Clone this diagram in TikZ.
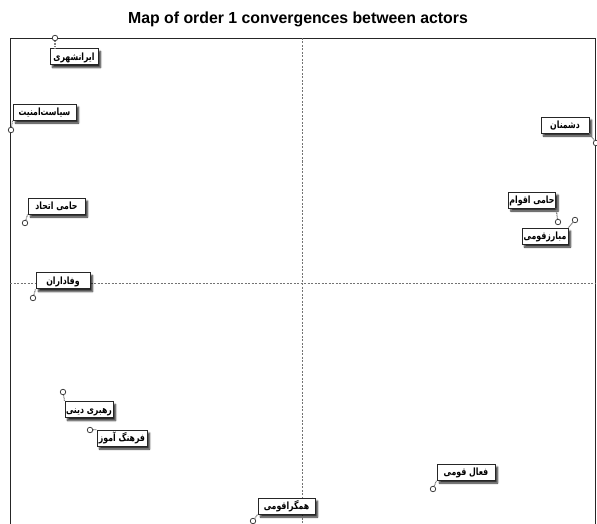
\documentclass[tikz,border=0pt]{standalone}
\usepackage{fontspec}
\usepackage{graphicx}
\setmainfont{Liberation Sans}
\newfontfamily\arabicfont[Script=Arabic]{DejaVu Sans}
\TeXXeTstate=1
\usetikzlibrary{shadows.blur}
\newcommand{\fa}[1]{\scalebox{0.78}[1]{\arabicfont\bfseries\beginR #1\endR}}
\tikzset{
  lbl/.style={draw=black!85, line width=0.9pt, fill=white, minimum height=16pt,
    inner sep=1pt, text height=8.5pt, text depth=1pt,
    font=\fontsize{10}{11}\selectfont,
    blur shadow={shadow xshift=2.5pt, shadow yshift=-3pt, shadow blur radius=1.8pt,
      shadow blur steps=6, shadow opacity=85}},
  pt/.style={circle, draw=black!75, fill=white, line width=0.8pt,
    minimum size=5.5pt, inner sep=0pt},
  conn/.style={draw=black!50, line width=1.1pt, dash pattern=on 1pt off 0.6pt},
  axis/.style={draw=black!55, line width=0.55pt, dash pattern=on 2pt off 1.5pt},
}
\begin{document}
\begin{tikzpicture}[x=1pt, y=-1pt]
  \useasboundingbox (0,0) rectangle (597,524);
  \clip (0,0) rectangle (597,524);

  % title
  \node[font=\fontsize{16}{18}\bfseries\selectfont, xscale=0.99] (title) at (298,19)
    {Map of order 1 convergences between actors};

  % frame and axes
  \draw[line width=0.9pt, black!85] (10,540) -- (10,38) -- (595,38) -- (595,540);
  \coordinate (vtop) at (302,38);
  \coordinate (vbot) at (302,540);
  \coordinate (hl) at (10,283);
  \coordinate (hr) at (595,283);
  \draw[axis] (vtop) -- (vbot);
  \draw[axis] (hl) -- (hr);

  % actors: label boxes
  \node[lbl, minimum width=48pt] (l1)  at (74,56.5)   {\fa{ایرانشهری}};
  \node[lbl, minimum width=63pt] (l2)  at (44.5,112)  {\fa{سیاست‌امنیت}};
  \node[lbl, minimum width=57pt] (l3)  at (56.5,206)  {\fa{حامی اتحاد}};
  \node[lbl, minimum width=54pt] (l4)  at (63,280.5)  {\fa{وفاداران}};
  \node[lbl, minimum width=48pt] (l5)  at (565,125)   {\fa{دشمنان}};
  \node[lbl, minimum width=46pt] (l6)  at (532,200)   {\fa{حامی اقوام}};
  \node[lbl, minimum width=46pt] (l7)  at (545,236)   {\fa{مبارزقومی}};
  \node[lbl, minimum width=48pt] (l8)  at (89,409.5)  {\fa{رهبری دینی}};
  \node[lbl, minimum width=50pt] (l9)  at (122,438)   {\fa{فرهنگ آموز}};
  \node[lbl, minimum width=57pt] (l10) at (286.5,506) {\fa{همگراقومی}};
  \node[lbl, minimum width=58pt] (l11) at (466,472)   {\fa{فعال قومی}};

  % actors: positions
  \node[pt] (p1)  at (55,38)   {};
  \node[pt] (p2)  at (11,130)  {};
  \node[pt] (p3)  at (25,223)  {};
  \node[pt] (p4)  at (33,298)  {};
  \node[pt] (p5)  at (596,143) {};
  \node[pt] (p6)  at (558,222) {};
  \node[pt] (p7)  at (575,220) {};
  \node[pt] (p8)  at (63,392)  {};
  \node[pt] (p9)  at (90,430)  {};
  \node[pt] (p10) at (253,521) {};
  \node[pt] (p11) at (433,489) {};

  % leader lines
  \draw[conn] (p1) -- (p1 |- l1.north);
  \draw[conn] (p2) -- (l2.south west);
  \draw[conn] (p3) -- (l3.south west);
  \draw[conn] (p4) -- (l4.south west);
  \draw[conn] (p5) -- (l5.south east);
  \draw[conn] (p6) -- (l6.south east);
  \draw[conn] (p7) -- (l7.north east);
  \draw[conn] (p8) -- (l8.north west);
  \draw[conn] (p9) -- (l9.north west);
  \draw[conn] (p10) -- (l10.south west);
  \draw[conn] (p11) -- (l11.south west);
\end{tikzpicture}
\end{document}
